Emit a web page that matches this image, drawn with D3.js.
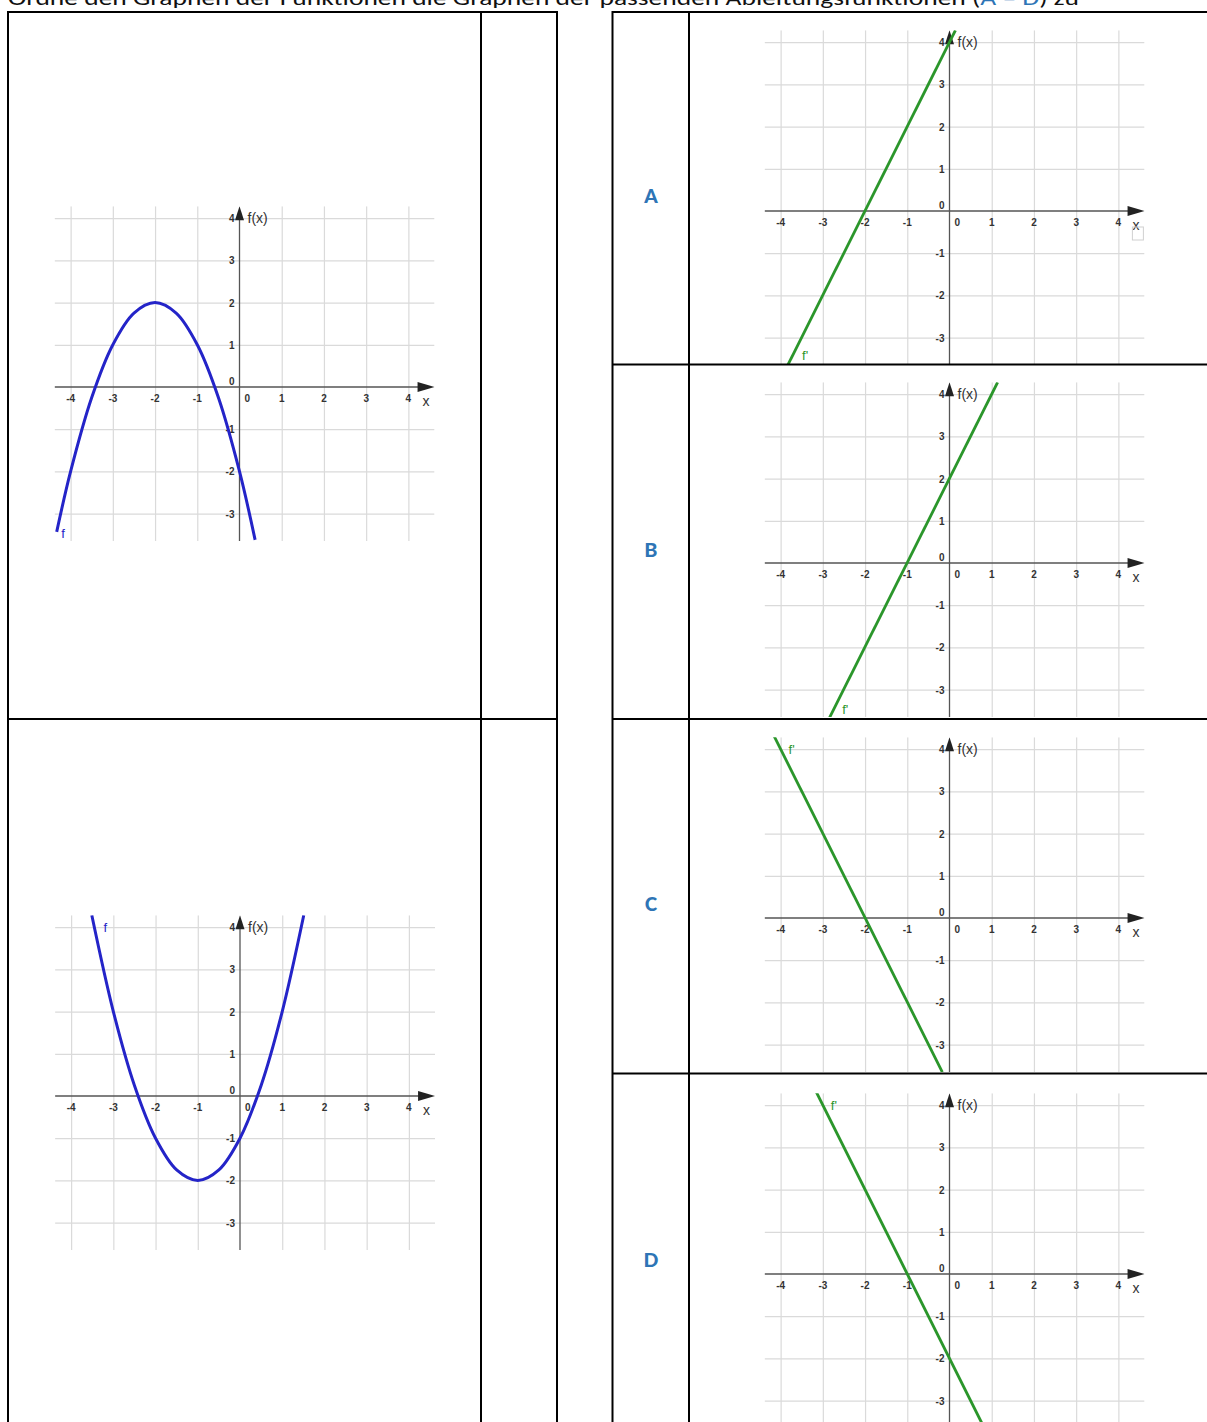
<!DOCTYPE html>
<html>
<head>
<meta charset="utf-8">
<script src="https://cdn.jsdelivr.net/npm/d3@7"></script>
<style>
body { margin: 0; background: #fff; }
</style>
</head>
<body>
<script>
// ticks shown on every small graph
var xTicks = [-4, -3, -2, -1, 1, 2, 3, 4];
var yTicks = [-3, -2, -1, 1, 2, 3, 4];
var letters = ["A", "B", "C", "D"];

// f (top left)
var fTopX = [-4.33, -4, -3.5, -3, -2.5, -2, -1.5, -1, -0.5, 0, 0.37];
var fTopY = [-3.43, -2, -0.25, 1, 1.75, 2, 1.75, 1, -0.25, -2, -3.62];

// f (bottom left)
var fBotX = [-3.51, -3, -2.5, -2, -1.5, -1, -0.5, 0, 0.5, 1, 1.51];
var fBotY = [4.28, 2, 0.25, -1, -1.75, -2, -1.75, -1, 0.25, 2, 4.28];

// f' lines, end points (x, y)
var lineAX = [-3.83, 0.14], lineAY = [-3.65, 4.28];
var lineBX = [-2.87, 1.14], lineBY = [-3.72, 4.28];
var lineCX = [-4.2, -0.17], lineCY = [4.4, -3.65];
var lineDX = [-3.2, 0.9], lineDY = [4.4, -3.8];

// where the "f" / "f'" names sit (data units)
var nameX = [-4.18, -3.19, -3.42, -2.47, -3.74, -2.74];
var nameY = [-3.46, 4.0, -3.42, -3.45, 4.0, 4.0];

var width = 1207, height = 1422;
var unit = 42.22;
var xDom = [-4.38, 4.62];
var yDom = [-3.65, 4.28];
var blue = "#2424c8", green = "#2b962b", letterBlue = "#2e75b6";

var svg = d3.select("body").append("svg")
    .attr("width", width)
    .attr("height", height)
    .style("font-family", "'Liberation Sans', Arial, sans-serif");

// heading (top half is cut off in the original)
var head = svg.append("text")
    .attr("x", 8)
    .attr("y", 5)
    .attr("textLength", 1071)
    .attr("lengthAdjust", "spacingAndGlyphs")
    .style("font-family", "Carlito, Calibri, 'Open Sans', sans-serif")
    .style("font-size", "21px")
    .style("fill", "#111");
head.append("tspan").text("Ordne den Graphen der Funktionen die Graphen der passenden Ableitungsfunktionen (");
head.append("tspan").style("fill", letterBlue).text("A – D");
head.append("tspan").text(") zu");

function drawPanel(id, ox, oy, clipTop, clipBottom) {
    var x = d3.scaleLinear().domain(xDom).range([ox + xDom[0] * unit, ox + xDom[1] * unit]);
    var y = d3.scaleLinear().domain(yDom).range([oy - yDom[0] * unit, oy - yDom[1] * unit]);
    var left = x(xDom[0]), right = x(xDom[1]);
    var top = Math.max(y(yDom[1]), clipTop), bottom = Math.min(y(yDom[0]), clipBottom);

    svg.append("clipPath").attr("id", "clip" + id)
        .append("rect")
        .attr("x", left).attr("y", top)
        .attr("width", right - left).attr("height", bottom - top);

    var g = svg.append("g").attr("clip-path", "url(#clip" + id + ")");

    // grid
    var gx = g.append("g")
        .attr("transform", "translate(0," + y(yDom[0]) + ")")
        .call(d3.axisBottom(x).tickValues(xTicks).tickSize(-(y(yDom[0]) - y(yDom[1]))).tickFormat(""));
    var gy = g.append("g")
        .attr("transform", "translate(" + left + ",0)")
        .call(d3.axisLeft(y).tickValues(yTicks).tickSize(-(right - left)).tickFormat(""));
    [gx, gy].forEach(function (a) {
        a.select(".domain").remove();
        a.selectAll("line").style("stroke", "#dadada").style("stroke-width", 1.2);
    });

    // axes
    g.append("line")
        .attr("x1", left).attr("x2", right - 10)
        .attr("y1", y(0)).attr("y2", y(0))
        .style("stroke", "#555").style("stroke-width", 1.3);
    g.append("line")
        .attr("x1", x(0)).attr("x2", x(0))
        .attr("y1", y(yDom[0])).attr("y2", y(yDom[1]) + 8)
        .style("stroke", "#555").style("stroke-width", 1.3);
    g.append("path")
        .attr("d", "M" + right + "," + y(0) + "L" + (right - 17) + "," + (y(0) - 5) + "L" + (right - 17) + "," + (y(0) + 5) + "Z")
        .style("fill", "#222");
    g.append("path")
        .attr("d", "M" + x(0) + "," + y(yDom[1]) + "L" + (x(0) - 4.5) + "," + (y(yDom[1]) + 14) + "L" + (x(0) + 4.5) + "," + (y(yDom[1]) + 14) + "Z")
        .style("fill", "#222");

    // tick labels
    var lab = g.append("g")
        .style("font-size", "10px")
        .style("font-weight", "bold")
        .style("fill", "#333");
    lab.selectAll(".xl").data(xTicks).enter().append("text")
        .attr("x", function (d) { return x(d); })
        .attr("y", y(0) + 15)
        .attr("text-anchor", "middle")
        .text(function (d) { return String(d); });
    lab.selectAll(".yl").data(yTicks).enter().append("text")
        .attr("x", x(0) - 5)
        .attr("y", function (d) { return y(d) + 4; })
        .attr("text-anchor", "end")
        .text(function (d) { return String(d); });
    lab.append("text").attr("x", x(0) - 5).attr("y", y(0) - 2).attr("text-anchor", "end").text("0");
    lab.append("text").attr("x", x(0) + 5).attr("y", y(0) + 15).text("0");

    g.append("text")
        .attr("x", x(0) + 8).attr("y", y(4) + 5)
        .style("font-size", "14px").style("fill", "#333")
        .text("f(x)");
    g.append("text")
        .attr("x", x(4) + 14).attr("y", y(0) + 19)
        .style("font-size", "14px").style("fill", "#333")
        .text("x");

    return { g: g, x: x, y: y };
}

function zip(xs, ys) {
    return xs.map(function (v, i) { return [v, ys[i]]; });
}

function drawCurve(p, xs, ys, color, smooth) {
    var line = d3.line()
        .x(function (d) { return p.x(d[0]); })
        .y(function (d) { return p.y(d[1]); });
    if (smooth) line.curve(d3.curveCatmullRom.alpha(0.5));
    p.g.append("path")
        .datum(zip(xs, ys))
        .attr("d", line)
        .style("fill", "none")
        .style("stroke", color)
        .style("stroke-width", smooth ? 3 : 2.8);
}

function drawName(p, i, label, color) {
    p.g.append("text")
        .attr("x", p.x(nameX[i])).attr("y", p.y(nameY[i]) + 5)
        .attr("text-anchor", "middle")
        .style("font-size", "13px")
        .style("fill", color)
        .text(label);
}

// left column: the functions f
var p1 = drawPanel("f1", 239.5, 387, 13, 718);
drawCurve(p1, fTopX, fTopY, blue, true);
drawName(p1, 0, "f", blue);

var p2 = drawPanel("f2", 240, 1096, 720, 1422);
drawCurve(p2, fBotX, fBotY, blue, true);
drawName(p2, 1, "f", blue);

// right column: derivative graphs A-D
var pA = drawPanel("A", 949.5, 211, 13, 364);
drawCurve(pA, lineAX, lineAY, green, false);
drawName(pA, 2, "f'", green);
pA.g.append("rect")
    .attr("x", pA.x(4) + 14).attr("y", pA.y(0) + 16)
    .attr("width", 11).attr("height", 13)
    .style("fill", "none").style("stroke", "#d0d0d0");

var pB = drawPanel("B", 949.5, 563, 365, 718);
drawCurve(pB, lineBX, lineBY, green, false);
drawName(pB, 3, "f'", green);

var pC = drawPanel("C", 949.5, 918, 720, 1073);
drawCurve(pC, lineCX, lineCY, green, false);
drawName(pC, 4, "f'", green);

var pD = drawPanel("D", 949.5, 1274, 1091, 1422);
drawCurve(pD, lineDX, lineDY, green, false);
drawName(pD, 5, "f'", green);
pD.g.append("line")
    .attr("x1", pD.x(xDom[0])).attr("x2", pD.x(xDom[1]))
    .attr("y1", 1092).attr("y2", 1092)
    .style("stroke", "#cfcfcf").style("stroke-width", 1.2);

// table borders
var rowLines = [12, 364.5, 719, 1073.5];
var tbl = svg.append("g").style("stroke", "#000").style("stroke-width", 2);
// left table
tbl.append("line").attr("x1", 8).attr("x2", 557).attr("y1", 12).attr("y2", 12);
tbl.append("line").attr("x1", 8).attr("x2", 557).attr("y1", 719).attr("y2", 719);
[8, 481, 557].forEach(function (vx) {
    tbl.append("line").attr("x1", vx).attr("x2", vx).attr("y1", 11).attr("y2", height);
});
// right table
rowLines.forEach(function (ry) {
    tbl.append("line").attr("x1", 612).attr("x2", width).attr("y1", ry).attr("y2", ry);
});
[612.5, 689].forEach(function (vx) {
    tbl.append("line").attr("x1", vx).attr("x2", vx).attr("y1", 11).attr("y2", height);
});

// letters A-D, a little below the middle of their rows
var rowMid = d3.pairs(rowLines.concat([height + 8])).map(function (r) { return (r[0] + r[1]) / 2; });
svg.selectAll(".letter").data(letters).enter().append("text")
    .attr("x", 651)
    .attr("y", function (d, i) { return rowMid[i] + 15; })
    .attr("text-anchor", "middle")
    .style("font-family", "Carlito, Calibri, 'Open Sans', sans-serif")
    .style("font-weight", "bold")
    .style("font-size", "23px")
    .style("fill", letterBlue)
    .text(function (d) { return d; });
</script>
</body>
</html>
